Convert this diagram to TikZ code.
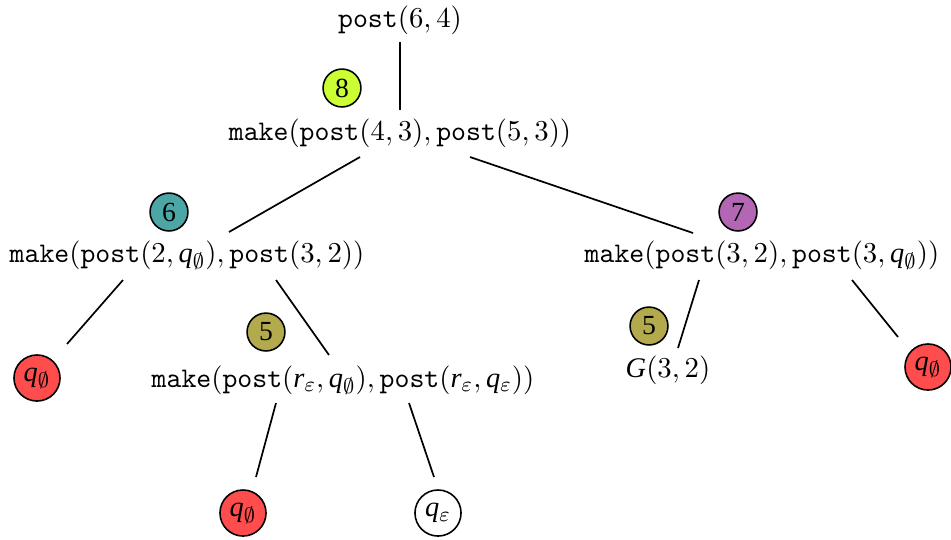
\documentclass[tikz,border=0pt]{standalone}
\usepackage{fontspec}
\setmainfont{Liberation Serif}
\DeclareSymbolFont{operators}{TU}{\rmdefault}{m}{n}
\usetikzlibrary{calc}
\definecolor{cyel}{RGB}{204,255,51}
\definecolor{cteal}{RGB}{77,166,166}
\definecolor{cpurp}{RGB}{179,102,179}
\definecolor{colive}{RGB}{179,170,77}
\definecolor{cred}{RGB}{255,77,77}
\newcommand{\qe}{\mathit{q}_\emptyset}
\newcommand{\qv}{\mathit{q}_\varepsilon}
\newcommand{\rv}{\mathit{r}_\varepsilon}
\tikzset{
  lbl/.style={inner sep=0pt, font=\fontsize{10.8}{13}\selectfont},
  badge/.style={circle, draw=black, line width=0.6pt, minimum size=14.4pt, inner sep=0pt, font=\fontsize{10.5}{12}\selectfont},
  qnode/.style={circle, draw=black, line width=0.6pt, minimum size=17.5pt, inner sep=0pt, font=\fontsize{10.8}{13}\selectfont},
  edge/.style={line width=0.65pt}
}
\begin{document}
\begin{tikzpicture}[x=0.38pt,y=-0.38pt]
\useasboundingbox (0,0) rectangle (951,539);
\node[lbl] (top) at (400,20) {$\mathtt{post}(6,4)$};
\node[lbl] (m1) at (400,133) {$\mathtt{make}(\mathtt{post}(4,3),\mathtt{post}(5,3))$};
\node[lbl] (mL) at (187,255) {$\mathtt{make}(\mathtt{post}(2,\qe),\mathtt{post}(3,2))$};
\node[lbl] (mR) at (762,255) {$\mathtt{make}(\mathtt{post}(3,2),\mathtt{post}(3,\qe))$};
\node[lbl] (mLR) at (343,380) {$\mathtt{make}(\mathtt{post}(\rv,\qe),\mathtt{post}(\rv,\qv))$};
\node[lbl] (G) at (668,370) {$\mathit{G}(3,2)$};
\node[qnode, fill=cred] (qLL) at (37,378) {$\qe$};
\node[qnode, fill=cred] (qR) at (928,367) {$\qe$};
\node[qnode, fill=cred] (qb1) at (243,513) {$\qe$};
\node[qnode, fill=white] (qb2) at (438,513) {$\qv$};
\node[badge, fill=cyel] (b8) at (342,88) {8};
\node[badge, fill=cteal] (b6) at (169,212) {6};
\node[badge, fill=cpurp] (b7) at (738,212) {7};
\node[badge, fill=colive] (b5a) at (266,332) {5};
\node[badge, fill=colive] (b5b) at (649,326) {5};
\draw[edge] ($(top)+(0,22)$) -- ($(m1)+(0,-23)$);
\draw[edge] ($(m1)+(-40,24)$) -- ($(mL)+(42,-23)$);
\draw[edge] ($(m1)+(70,24)$) -- ($(mR)+(-69,-22)$);
\draw[edge] ($(mL)+(-64,25)$) -- ($(qLL)+(30,-34)$);
\draw[edge] ($(mL)+(89,25)$) -- ($(mLR)+(-14,-25)$);
\draw[edge] ($(mR)+(-63,25)$) -- ($(G)+(10,-22)$);
\draw[edge] ($(mR)+(90,25)$) -- ($(qR)+(-30,-30)$);
\draw[edge] ($(mLR)+(-67,23)$) -- ($(qb1)+(13,-36)$);
\draw[edge] ($(mLR)+(66,23)$) -- ($(qb2)+(-4,-36)$);
\end{tikzpicture}
\end{document}
